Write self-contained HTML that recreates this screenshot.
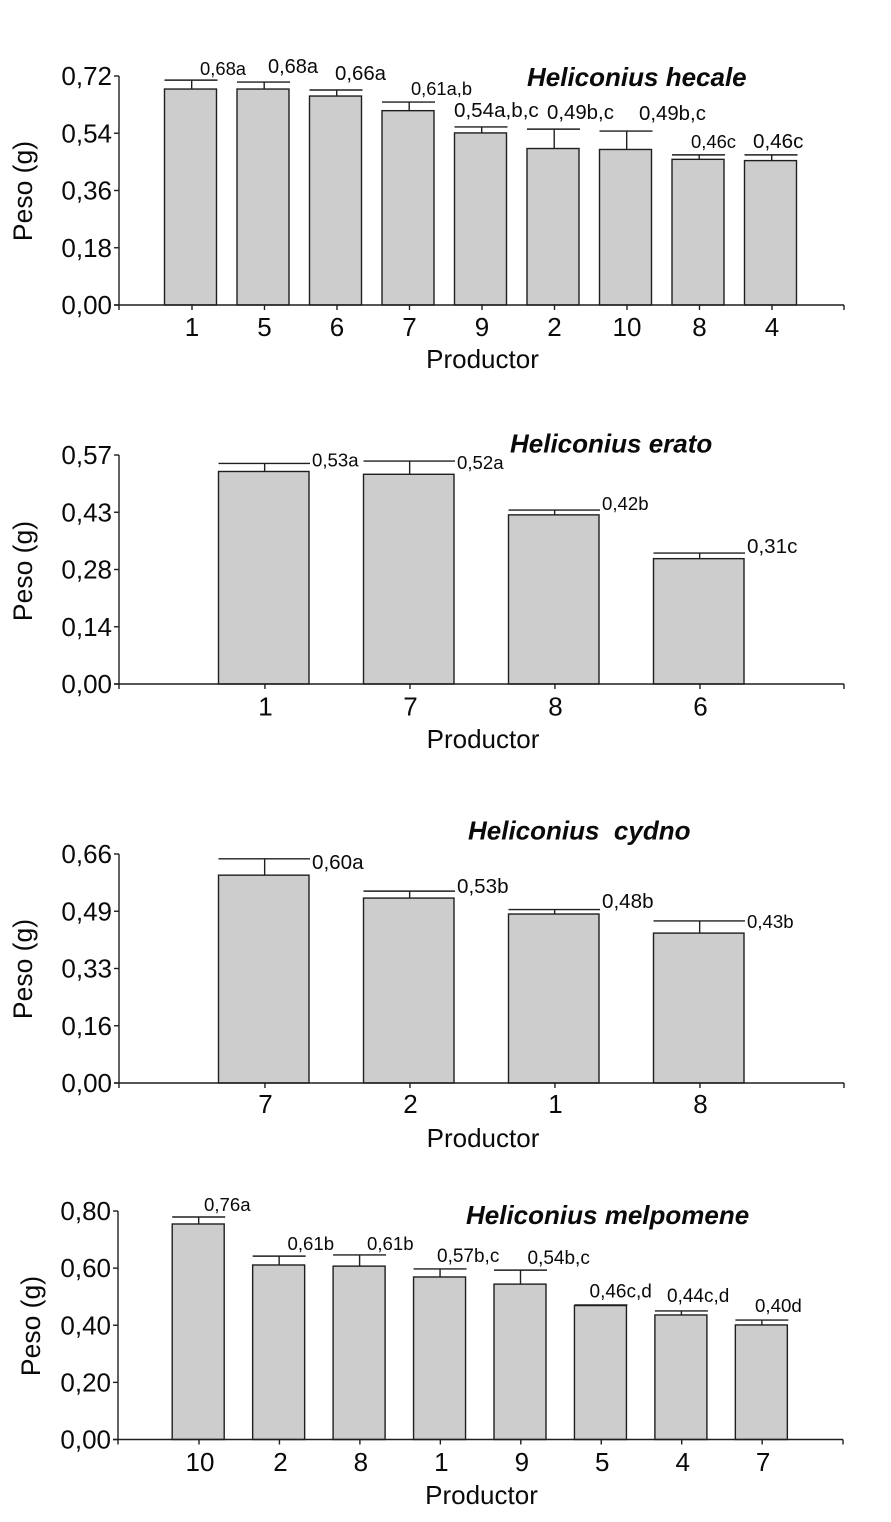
<!DOCTYPE html>
<html lang="es">
<head>
<meta charset="utf-8">
<title>Peso por productor - Heliconius</title>
<style>
  html, body { margin: 0; padding: 0; background: #fff; }
  svg { display: block; }
  text { font-family: "Liberation Sans", Arial, sans-serif; fill: #0a0a0a; white-space: pre; }
</style>
</head>
<body>
<svg id="figure" xmlns="http://www.w3.org/2000/svg" width="891" height="1522" viewBox="0 0 891 1522"></svg>
<script>
// ---- Heliconius hecale ----
const hecaleCategories = ['1', '5', '6', '7', '9', '2', '10', '8', '4'];
const hecaleMeans = [0.679, 0.679, 0.657, 0.611, 0.541, 0.492, 0.489, 0.458, 0.454];
const hecaleUpper = [0.707, 0.701, 0.676, 0.638, 0.560, 0.553, 0.547, 0.472, 0.472];
const hecaleValueLabels = ['0,68a', '0,68a', '0,66a', '0,61a,b', '0,54a,b,c', '0,49b,c', '0,49b,c', '0,46c', '0,46c'];
const hecaleTickValues = [0, 0.18, 0.36, 0.54, 0.72];
const hecaleTickLabels = ['0,00', '0,18', '0,36', '0,54', '0,72'];

// ---- Heliconius erato ----
const eratoCategories = ['1', '7', '8', '6'];
const eratoMeans = [0.529, 0.522, 0.421, 0.312];
const eratoUpper = [0.549, 0.555, 0.433, 0.326];
const eratoValueLabels = ['0,53a', '0,52a', '0,42b', '0,31c'];
const eratoTickValues = [0, 0.1425, 0.285, 0.4275, 0.57];
const eratoTickLabels = ['0,00', '0,14', '0,28', '0,43', '0,57'];

// ---- Heliconius cydno ----
const cydnoCategories = ['7', '2', '1', '8'];
const cydnoMeans = [0.599, 0.533, 0.487, 0.432];
const cydnoUpper = [0.646, 0.553, 0.500, 0.467];
const cydnoValueLabels = ['0,60a', '0,53b', '0,48b', '0,43b'];
const cydnoTickValues = [0, 0.165, 0.33, 0.495, 0.66];
const cydnoTickLabels = ['0,00', '0,16', '0,33', '0,49', '0,66'];

// ---- Heliconius melpomene ----
const melpomeneCategories = ['10', '2', '8', '1', '9', '5', '4', '7'];
const melpomeneMeans = [0.7545, 0.611, 0.607, 0.569, 0.544, 0.469, 0.436, 0.401];
const melpomeneUpper = [0.779, 0.642, 0.646, 0.597, 0.593, 0.471, 0.450, 0.418];
const melpomeneValueLabels = ['0,76a', '0,61b', '0,61b', '0,57b,c', '0,54b,c', '0,46c,d', '0,44c,d', '0,40d'];
const melpomeneTickValues = [0, 0.2, 0.4, 0.6, 0.8];
const melpomeneTickLabels = ['0,00', '0,20', '0,40', '0,60', '0,80'];

// ---- Layout (pixels) kept apart from the data ----
const hecaleLayout = { slug: 'hecale', title: 'Heliconius hecale', titleX: 527, titleY: 86,
  axisX: 119, axisEnd: 844, base: 305, top: 76, max: 0.72,
  first: 164.5, step: 72.5, barW: 52, tickShift: 1.5, catY: 336, prodY: 368, prodX: 482.5,
  pesoX: 32, pesoY: 191, catShift: 0,
  labelX: [200, 268, 335, 411, 454, 547, 639, 691, 753],
  labelDy: [-5, -9, -10, -7, -10, -10, -11, -7, -7],
  labelSize: [18.4, 20, 20.4, 18.3, 20.6, 20.4, 20.4, 18.4, 20.6] };
const eratoLayout = { slug: 'erato', title: 'Heliconius erato', titleX: 510, titleY: 452.5,
  axisX: 119, axisEnd: 844, base: 684, top: 455, max: 0.57,
  first: 218.5, step: 145, barW: 90.5, tickShift: 1.2, catY: 715.5, prodY: 748, prodX: 483,
  pesoX: 32, pesoY: 571, catShift: 0.5,
  labelX: [312, 457, 602, 747],
  labelDy: [3, 8, 0, 0],
  labelSize: [18.6, 18.6, 18.6, 20.6] };
const cydnoLayout = { slug: 'cydno', title: 'Heliconius  cydno', titleX: 468, titleY: 839.5,
  axisX: 119, axisEnd: 844, base: 1083, top: 854, max: 0.66,
  first: 218.5, step: 145, barW: 90.5, tickShift: 1.2, catY: 1113, prodY: 1147, prodX: 483,
  pesoX: 32, pesoY: 969, catShift: 0.5,
  labelX: [312, 457, 602, 747],
  labelDy: [10, 2, -1.5, 7],
  labelSize: [20.6, 20.6, 20.6, 18.6] };
const melpomeneLayout = { slug: 'melpomene', title: 'Heliconius melpomene', titleX: 466, titleY: 1224,
  axisX: 118, axisEnd: 843, base: 1439.5, top: 1211, max: 0.80,
  first: 172.2, step: 80.45, barW: 52, tickShift: 0.8, catY: 1471, prodY: 1504, prodX: 481.5,
  pesoX: 40, pesoY: 1326, catShift: 1,
  labelX: [204, 287.5, 367, 437, 527.5, 589.5, 667, 755],
  labelDy: [-6, -6, -5, -7, -6, -7.5, -9, -8],
  labelSize: [18.6, 18.6, 18.6, 19, 19, 19, 19, 18.7] };

const SVG_NS = 'http://www.w3.org/2000/svg';
const INK = '#1f1f1f';
const figure = document.getElementById('figure');

function make(tag, parent, attrs) {
  const node = document.createElementNS(SVG_NS, tag);
  for (const key in attrs) node.setAttribute(key, attrs[key]);
  parent.appendChild(node);
  return node;
}
function makeLine(parent, x1, y1, x2, y2) {
  return make('line', parent, { x1: x1, y1: y1, x2: x2, y2: y2, stroke: INK, 'stroke-width': 1.4 });
}
function makeText(parent, x, y, size, content, extra) {
  const node = make('text', parent, Object.assign({ x: x, y: y, 'font-size': size }, extra || {}));
  node.textContent = content;
  return node;
}

function drawPanel(L, categories, means, upper, valueLabels, tickValues, tickLabels) {
  const yScale = v => L.base - (v / L.max) * (L.base - L.top);
  const barLeft = i => L.first + i * L.step;
  const barCenter = i => barLeft(i) + L.barW / 2;

  const panel = make('g', figure, {});
  
  

  means.forEach((m, i) => {
    const top = yScale(m);
    const rect = make('rect', panel, { x: barLeft(i), y: top, width: L.barW, height: L.base - top, fill: '#cdcdcd', stroke: INK, 'stroke-width': 1.4 });
    
    

    const cx = barCenter(i) + L.tickShift - 0.3;
    const errTop = yScale(upper[i]);
    const stem = makeLine(panel, cx, errTop, cx, top);
    
    
    const cap = makeLine(panel, barLeft(i), errTop, barLeft(i) + L.barW + 1, errTop);
    
    

    const label = makeText(panel, L.labelX[i], errTop + L.labelDy[i], L.labelSize[i], valueLabels[i]);
    
    
  });

  const yAxis = makeLine(panel, L.axisX, L.top, L.axisX, L.base + 5);
  
  
  const xAxis = makeLine(panel, L.axisX - 5, L.base, L.axisEnd, L.base);
  
  
  const xEnd = makeLine(panel, L.axisEnd, L.base, L.axisEnd, L.base + 5);
  
  

  tickValues.forEach((v, i) => {
    const y = yScale(v);
    const tick = makeLine(panel, L.axisX - 5, y, L.axisX, y);
    
    
    const label = makeText(panel, L.axisX - 7, y + 9, 26, tickLabels[i], { 'text-anchor': 'end' });
    
    
  });

  categories.forEach((c, i) => {
    const x = barCenter(i) + L.tickShift;
    const tick = makeLine(panel, x, L.base, x, L.base + 5);
    
    
    const label = makeText(panel, x + L.catShift, L.catY, 26, c, { 'text-anchor': 'middle' });
    
    
  });

  const xTitle = makeText(panel, L.prodX, L.prodY, 26, 'Productor', { 'text-anchor': 'middle' });
  
  

  const yTitle = makeText(panel, 0, 0, 26.5, 'Peso (g)', { 'text-anchor': 'middle', transform: 'translate(' + L.pesoX + ' ' + L.pesoY + ') rotate(-90)' });
  
  

  const title = makeText(panel, L.titleX, L.titleY, 26, L.title, { 'font-weight': 'bold', 'font-style': 'italic' });
  
  
}

drawPanel(hecaleLayout, hecaleCategories, hecaleMeans, hecaleUpper, hecaleValueLabels, hecaleTickValues, hecaleTickLabels);
drawPanel(eratoLayout, eratoCategories, eratoMeans, eratoUpper, eratoValueLabels, eratoTickValues, eratoTickLabels);
drawPanel(cydnoLayout, cydnoCategories, cydnoMeans, cydnoUpper, cydnoValueLabels, cydnoTickValues, cydnoTickLabels);
drawPanel(melpomeneLayout, melpomeneCategories, melpomeneMeans, melpomeneUpper, melpomeneValueLabels, melpomeneTickValues, melpomeneTickLabels);
</script>
</body>
</html>
